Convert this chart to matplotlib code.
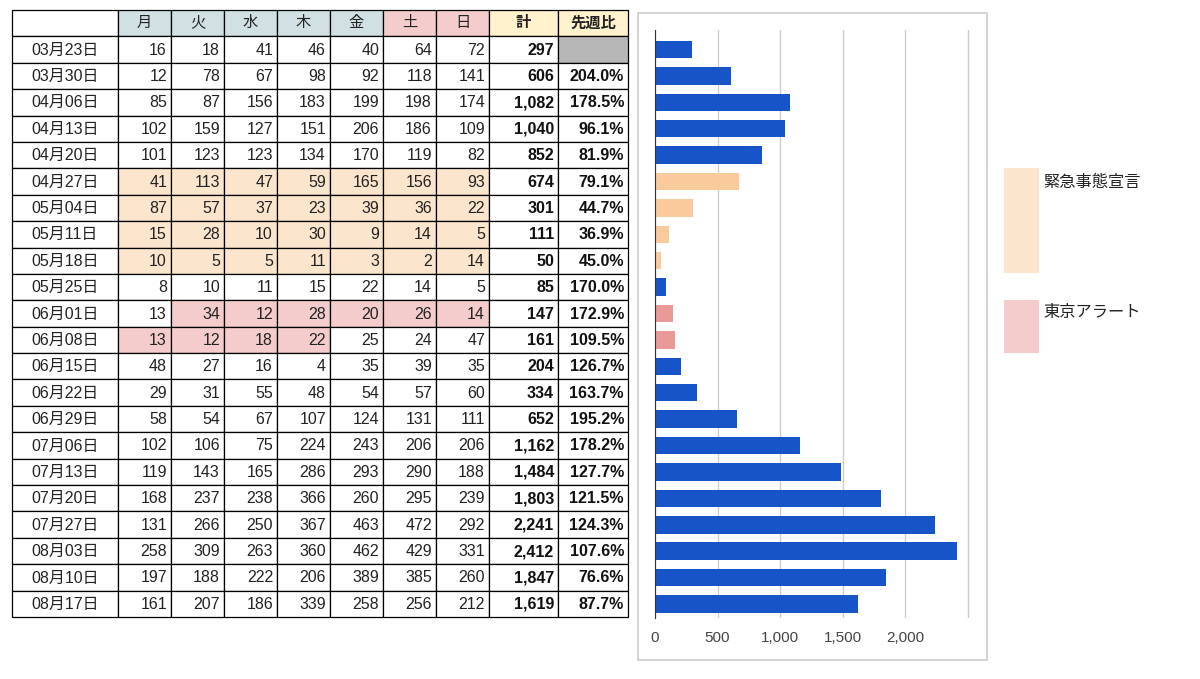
import matplotlib
matplotlib.use("Agg")
import matplotlib.pyplot as plt
from matplotlib.patches import Rectangle

plt.rcParams['font.family'] = ['Liberation Sans', 'Noto Sans CJK JP', 'DejaVu Sans']

# weekly data (week starting date, daily counts Mon..Sun, weekly total, ratio vs previous week)
weeks = ['03月23日', '03月30日', '04月06日', '04月13日', '04月20日', '04月27日', '05月04日',
         '05月11日', '05月18日', '05月25日', '06月01日', '06月08日', '06月15日', '06月22日',
         '06月29日', '07月06日', '07月13日', '07月20日', '07月27日', '08月03日', '08月10日',
         '08月17日']
mon = [16, 12, 85, 102, 101, 41, 87, 15, 10, 8, 13, 13, 48, 29, 58, 102, 119, 168, 131, 258, 197, 161]
tue = [18, 78, 87, 159, 123, 113, 57, 28, 5, 10, 34, 12, 27, 31, 54, 106, 143, 237, 266, 309, 188, 207]
wed = [41, 67, 156, 127, 123, 47, 37, 10, 5, 11, 12, 18, 16, 55, 67, 75, 165, 238, 250, 263, 222, 186]
thu = [46, 98, 183, 151, 134, 59, 23, 30, 11, 15, 28, 22, 4, 48, 107, 224, 286, 366, 367, 360, 206, 339]
fri = [40, 92, 199, 206, 170, 165, 39, 9, 3, 22, 20, 25, 35, 54, 124, 243, 293, 260, 463, 462, 389, 258]
sat = [64, 118, 198, 186, 119, 156, 36, 14, 2, 14, 26, 24, 39, 57, 131, 206, 290, 295, 472, 429, 385, 256]
sun = [72, 141, 174, 109, 82, 93, 22, 5, 14, 5, 14, 47, 35, 60, 111, 206, 188, 239, 292, 331, 260, 212]
totals = [297, 606, 1082, 1040, 852, 674, 301, 111, 50, 85, 147, 161, 204, 334, 652, 1162, 1484,
          1803, 2241, 2412, 1847, 1619]
ratios = ['', '204.0%', '178.5%', '96.1%', '81.9%', '79.1%', '44.7%', '36.9%', '45.0%', '170.0%',
          '172.9%', '109.5%', '126.7%', '163.7%', '195.2%', '178.2%', '127.7%', '121.5%', '124.3%',
          '107.6%', '76.6%', '87.7%']

headers = ['', '月', '火', '水', '木', '金', '土', '日', '計', '先週比']
# 'n' normal, 'e' emergency declaration, 'a' tokyo alert
status = ['n'] * 5 + ['e'] * 4 + ['n'] + ['a'] * 2 + ['n'] * 10
# cells (week index, day index 0..6) highlighted in the table
emergency_cells = [(r, c) for r in range(5, 9) for c in range(7)]
alert_cells = [(10, c) for c in range(1, 7)] + [(11, c) for c in range(4)]

legend_labels = ['緊急事態宣言', '東京アラート']

# colours
C_BLUE = '#1654c8'
C_PEACH_BAR = '#f9cb9c'
C_PINK_BAR = '#ea9999'
C_PEACH = '#fce5cd'
C_PINK = '#f4cccc'
C_WEEKDAY = '#d0e0e3'
C_YELLOW = '#fff2cc'
C_GRAY = '#b7b7b7'

W, H = 1200, 679
fig = plt.figure(figsize=(W / 100, H / 100), dpi=100)


def px_axes(x0, y0, x1, y1):
    return fig.add_axes([x0 / W, 1 - y1 / H, (x1 - x0) / W, (y1 - y0) / H])


# ---------------- table ----------------
tab = px_axes(12, 10, 628, 617)
widths = [106, 53, 53, 53, 53, 53, 53, 53, 69, 70]
edges = [0]
for w in widths:
    edges.append(edges[-1] + w)
tab.set_xlim(0, edges[-1])
tab.set_ylim(len(weeks) + 1, 0)
tab.axis('off')

daily = list(zip(mon, tue, wed, thu, fri, sat, sun))

for c, h in enumerate(headers):
    if c == 0:
        fc = 'white'
    elif c <= 5:
        fc = C_WEEKDAY
    elif c <= 7:
        fc = C_PINK
    else:
        fc = C_YELLOW
    tab.add_patch(Rectangle((edges[c], 0), widths[c], 1, facecolor=fc, edgecolor='black',
                            lw=0.9, clip_on=False))
    tab.text(edges[c] + widths[c] / 2, 0.5, h, ha='center', va='center', fontsize=11,
             color='#222222', fontweight='bold' if c >= 8 else 'normal')

for r, wk in enumerate(weeks):
    y = r + 1
    for c in range(len(headers)):
        fc = 'white'
        if 1 <= c <= 7:
            if (r, c - 1) in emergency_cells:
                fc = C_PEACH
            elif (r, c - 1) in alert_cells:
                fc = C_PINK
        if c == 9 and ratios[r] == '':
            fc = C_GRAY
        tab.add_patch(Rectangle((edges[c], y), widths[c], 1, facecolor=fc, edgecolor='black',
                                lw=0.9, clip_on=False))
    tab.text(edges[0] + widths[0] / 2, y + 0.52, wk, ha='center', va='center', fontsize=11.5,
             color='#222222')
    for d in range(7):
        tab.text(edges[d + 2] - 4, y + 0.52, str(daily[r][d]), ha='right', va='center',
                 fontsize=11.5, color='#222222')
    tab.text(edges[9] - 4, y + 0.52, f'{totals[r]:,}', ha='right', va='center', fontsize=11.5,
             fontweight='bold', color='#111111')
    tab.text(edges[10] - 4, y + 0.52, ratios[r], ha='right', va='center', fontsize=11.5,
             fontweight='bold', color='#111111')

# ---------------- bar chart ----------------
fig.patches.append(Rectangle((638 / W, 1 - 660 / H), (987 - 638) / W, (660 - 13) / H,
                             transform=fig.transFigure, fill=False, edgecolor='#cccccc', lw=1.2))

ax = px_axes(655, 30, 971, 618)
colors = [{'n': C_BLUE, 'e': C_PEACH_BAR, 'a': C_PINK_BAR}[s] for s in status]
ypos = list(range(len(weeks)))
ax.barh(ypos, totals, height=0.66, color=colors, zorder=3)
ax.set_xlim(0, 2525)
ax.set_ylim(21.53, -0.74)
ax.set_xticks([0, 500, 1000, 1500, 2000, 2500])
ax.set_xticklabels(['0', '500', '1,000', '1,500', '2,000', ''])
ax.set_yticks([])
ax.tick_params(axis='x', length=0, pad=9, labelsize=11, labelcolor='#444444')
ax.grid(axis='x', color='#cccccc', lw=1, zorder=0)
for s in ['top', 'right', 'bottom']:
    ax.spines[s].set_visible(False)
ax.spines['left'].set_color('#333333')
ax.spines['left'].set_zorder(4)

# legend
fig.patches.append(Rectangle((1004 / W, 1 - 273 / H), 35 / W, 105 / H,
                             transform=fig.transFigure, facecolor=C_PEACH, edgecolor='none'))
fig.patches.append(Rectangle((1004 / W, 1 - 353 / H), 35 / W, 53 / H,
                             transform=fig.transFigure, facecolor=C_PINK, edgecolor='none'))
fig.text(1043 / W, 1 - 183 / H, legend_labels[0], ha='left', va='center', fontsize=11.7,
         color='#222222', family=['Noto Sans CJK JP'])
fig.text(1043 / W, 1 - 313 / H, legend_labels[1], ha='left', va='center', fontsize=11.7,
         color='#222222', family=['Noto Sans CJK JP'])

fig.savefig('out.png', dpi=100)
